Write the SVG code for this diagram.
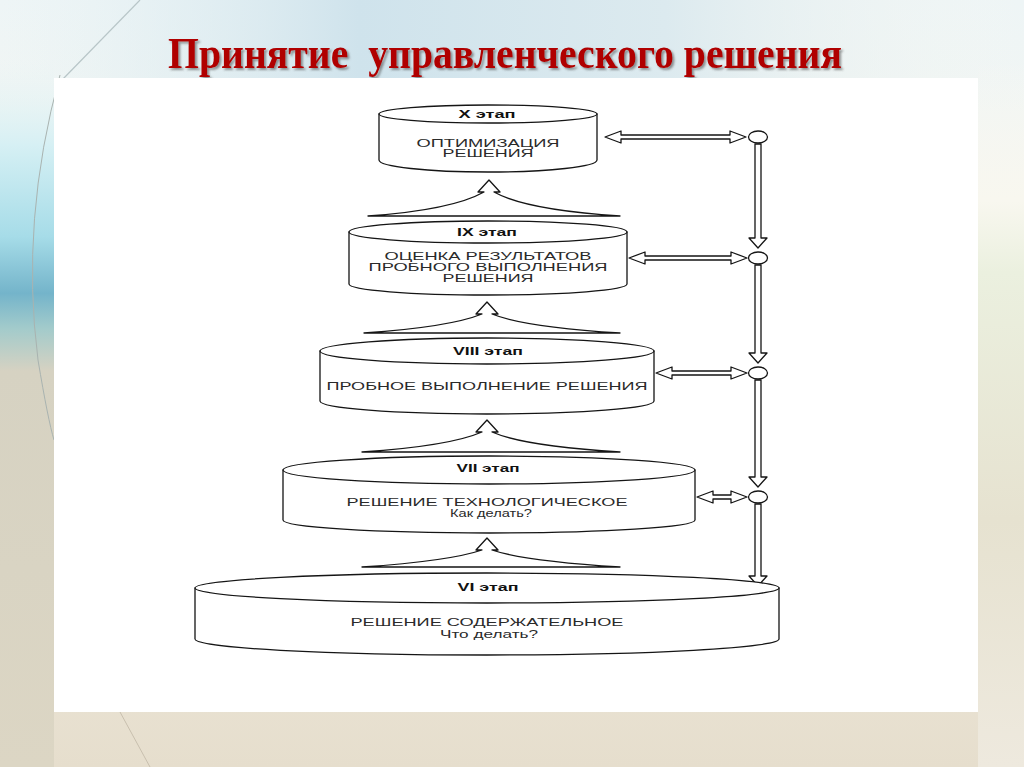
<svg xmlns="http://www.w3.org/2000/svg" width="1024" height="767" viewBox="0 0 1024 767">
<defs>
<linearGradient id="bg" x1="0" y1="0" x2="0" y2="1">
<stop offset="0" stop-color="#EEF5F6"/>
<stop offset="0.35" stop-color="#F5F6F0"/>
<stop offset="0.75" stop-color="#ECE6D8"/>
<stop offset="1" stop-color="#E6DECD"/>
</linearGradient>
<linearGradient id="topband" x1="0" y1="0" x2="1" y2="0">
<stop offset="0" stop-color="#E4F1F4" stop-opacity="0"/>
<stop offset="0.35" stop-color="#CFE3EC"/>
<stop offset="0.65" stop-color="#DCEAEF"/>
<stop offset="1" stop-color="#F7F8F2" stop-opacity="0"/>
</linearGradient>
<linearGradient id="leftband" x1="0" y1="0" x2="0" y2="1">
<stop offset="0" stop-color="#E8F4F5" stop-opacity="0"/>
<stop offset="0.12" stop-color="#D6F0F4"/>
<stop offset="0.25" stop-color="#A6DCE8"/>
<stop offset="0.33" stop-color="#74B4CA"/>
<stop offset="0.38" stop-color="#A3CBCB"/>
<stop offset="0.44" stop-color="#D6D2C2"/>
<stop offset="1" stop-color="#DCD6C4"/>
</linearGradient>
<linearGradient id="rightband" x1="0" y1="0" x2="0" y2="1">
<stop offset="0" stop-color="#F9F8F2" stop-opacity="0"/>
<stop offset="0.2" stop-color="#F8F7EF"/>
<stop offset="0.3" stop-color="#EBF0DF"/>
<stop offset="0.65" stop-color="#E6E2D0"/>
<stop offset="1" stop-color="#EEE9DE"/>
</linearGradient>
<filter id="sh" x="-5%" y="-30%" width="110%" height="160%">
<feDropShadow dx="2" dy="2" stdDeviation="1.2" flood-color="#444" flood-opacity="0.55"/>
</filter>
</defs>
<style>
.ln{fill:#fff;stroke:#151515;stroke-width:1.3;stroke-linejoin:round}
.tx{font-family:"Liberation Sans",Arial,sans-serif;font-size:11px;fill:#2a2a2a;text-anchor:middle}
.bd{font-family:"Liberation Sans",Arial,sans-serif;font-size:10.5px;font-weight:bold;fill:#111;text-anchor:middle}
</style>
<rect x="0" y="0" width="1024" height="767" fill="url(#bg)"/>
<rect x="0" y="0" width="1024" height="80" fill="url(#topband)"/>
<rect x="0" y="60" width="54" height="707" fill="url(#leftband)"/>
<rect x="978" y="60" width="46" height="707" fill="url(#rightband)"/>
<path d="M140,0 L62,80" stroke="#B8C6C8" stroke-width="1.2" fill="none"/>
<path d="M60,75 Q20,220 38,360 Q48,420 54,440" stroke="#A9B3B0" stroke-width="1" fill="none"/>
<path d="M120,712 L150,767" stroke="#C8BFAE" stroke-width="1" fill="none"/>
<text x="168" y="68" font-family="'Liberation Serif','Times New Roman',serif" font-size="44" font-weight="bold" fill="#B00000" textLength="674" lengthAdjust="spacingAndGlyphs" filter="url(#sh)" xml:space="preserve">Принятие  управленческого решения</text>
<rect x="54" y="78" width="924" height="634" fill="#FFFFFF"/>

<g id="connectors">
<path class="ln" d="M368,216 Q452,210 484,192 L478,192 L489,180 L500,192 L494,192 Q526,210 620,216 Z"/>
<path class="ln" d="M364,333 Q450,327 482,314 L476,314 L487,302 L498,314 L492,314 Q524,327 620,333 Z"/>
<path class="ln" d="M362,452 Q450,446 482,432 L476,432 L487,420 L498,432 L492,432 Q524,446 620,452 Z"/>
<path class="ln" d="M362,567 Q450,561 482,550 L476,550 L487,538 L498,550 L492,550 Q524,561 620,567 Z"/>
<path class="ln" d="M755,144 V238 H749 L758,248 L767,238 H761 V144 Z"/>
<path class="ln" d="M755,265 V353 H749 L758,363 L767,353 H761 V265 Z"/>
<path class="ln" d="M755,380 V477 H749 L758,487 L767,477 H761 V380 Z"/>
<path class="ln" d="M755,504 V576 H749 L758,586 L767,576 H761 V504 Z"/>
<path class="ln" d="M605,137 L621,131 V135 H730 V131 L746,137 L730,143 V139 H621 V143 Z"/>
<path class="ln" d="M629,258 L645,252 V256 H731 V252 L747,258 L731,264 V260 H645 V264 Z"/>
<path class="ln" d="M656,373 L672,367 V371 H731 V367 L747,373 L731,379 V375 H672 V379 Z"/>
<path class="ln" d="M697,497 L713,491 V495 H731 V491 L747,497 L731,503 V499 H713 V503 Z"/>
<ellipse class="ln" cx="758" cy="137" rx="9.5" ry="6"/>
<ellipse class="ln" cx="758" cy="258" rx="9.5" ry="6"/>
<ellipse class="ln" cx="758" cy="373" rx="9.5" ry="6"/>
<ellipse class="ln" cx="758" cy="497" rx="9.5" ry="6"/>
</g>

<g id="stage-x">
<path class="ln" d="M379,114 V160 A109,12 0 0 0 597,160 V114 Z"/>
<ellipse class="ln" cx="488" cy="114" rx="109" ry="9"/>
<text class="bd" x="487" y="118" textLength="57" lengthAdjust="spacingAndGlyphs">X этап</text>
<text class="tx" x="488" y="147" textLength="143" lengthAdjust="spacingAndGlyphs">ОПТИМИЗАЦИЯ</text>
<text class="tx" x="488" y="157" textLength="91" lengthAdjust="spacingAndGlyphs">РЕШЕНИЯ</text>
</g>

<g id="stage-ix">
<path class="ln" d="M349,232 V284 A139,11 0 0 0 627,284 V232 Z"/>
<ellipse class="ln" cx="488" cy="232" rx="139" ry="11"/>
<text class="bd" x="487" y="236" textLength="60" lengthAdjust="spacingAndGlyphs">IX этап</text>
<text class="tx" x="488" y="260" textLength="207" lengthAdjust="spacingAndGlyphs">ОЦЕНКА РЕЗУЛЬТАТОВ</text>
<text class="tx" x="488" y="271" textLength="239" lengthAdjust="spacingAndGlyphs">ПРОБНОГО ВЫПОЛНЕНИЯ</text>
<text class="tx" x="488" y="282" textLength="91" lengthAdjust="spacingAndGlyphs">РЕШЕНИЯ</text>
</g>

<g id="stage-viii">
<path class="ln" d="M320,351 V401 A167,13 0 0 0 654,401 V351 Z"/>
<ellipse class="ln" cx="487" cy="351" rx="167" ry="13"/>
<text class="bd" x="488" y="355" textLength="70" lengthAdjust="spacingAndGlyphs">VIII этап</text>
<text class="tx" x="487" y="390" textLength="321" lengthAdjust="spacingAndGlyphs">ПРОБНОЕ ВЫПОЛНЕНИЕ РЕШЕНИЯ</text>
</g>

<g id="stage-vii">
<path class="ln" d="M283,470 V520 A206,13 0 0 0 695,520 V470 Z"/>
<ellipse class="ln" cx="489" cy="470" rx="206" ry="14"/>
<text class="bd" x="488" y="472" textLength="63" lengthAdjust="spacingAndGlyphs">VII этап</text>
<text class="tx" x="487" y="506" textLength="281" lengthAdjust="spacingAndGlyphs">РЕШЕНИЕ ТЕХНОЛОГИЧЕСКОЕ</text>
<text class="tx" x="491" y="517" textLength="82" lengthAdjust="spacingAndGlyphs">Как делать?</text>
</g>

<g id="stage-vi">
<path class="ln" d="M195,588 V639 A292,16 0 0 0 779,639 V588 Z"/>
<ellipse class="ln" cx="487" cy="588" rx="292" ry="15"/>
<text class="bd" x="488" y="591" textLength="61" lengthAdjust="spacingAndGlyphs">VI этап</text>
<text class="tx" x="487" y="626" textLength="273" lengthAdjust="spacingAndGlyphs">РЕШЕНИЕ СОДЕРЖАТЕЛЬНОЕ</text>
<text class="tx" x="489" y="638" textLength="98" lengthAdjust="spacingAndGlyphs">Что делать?</text>
</g>
</svg>
